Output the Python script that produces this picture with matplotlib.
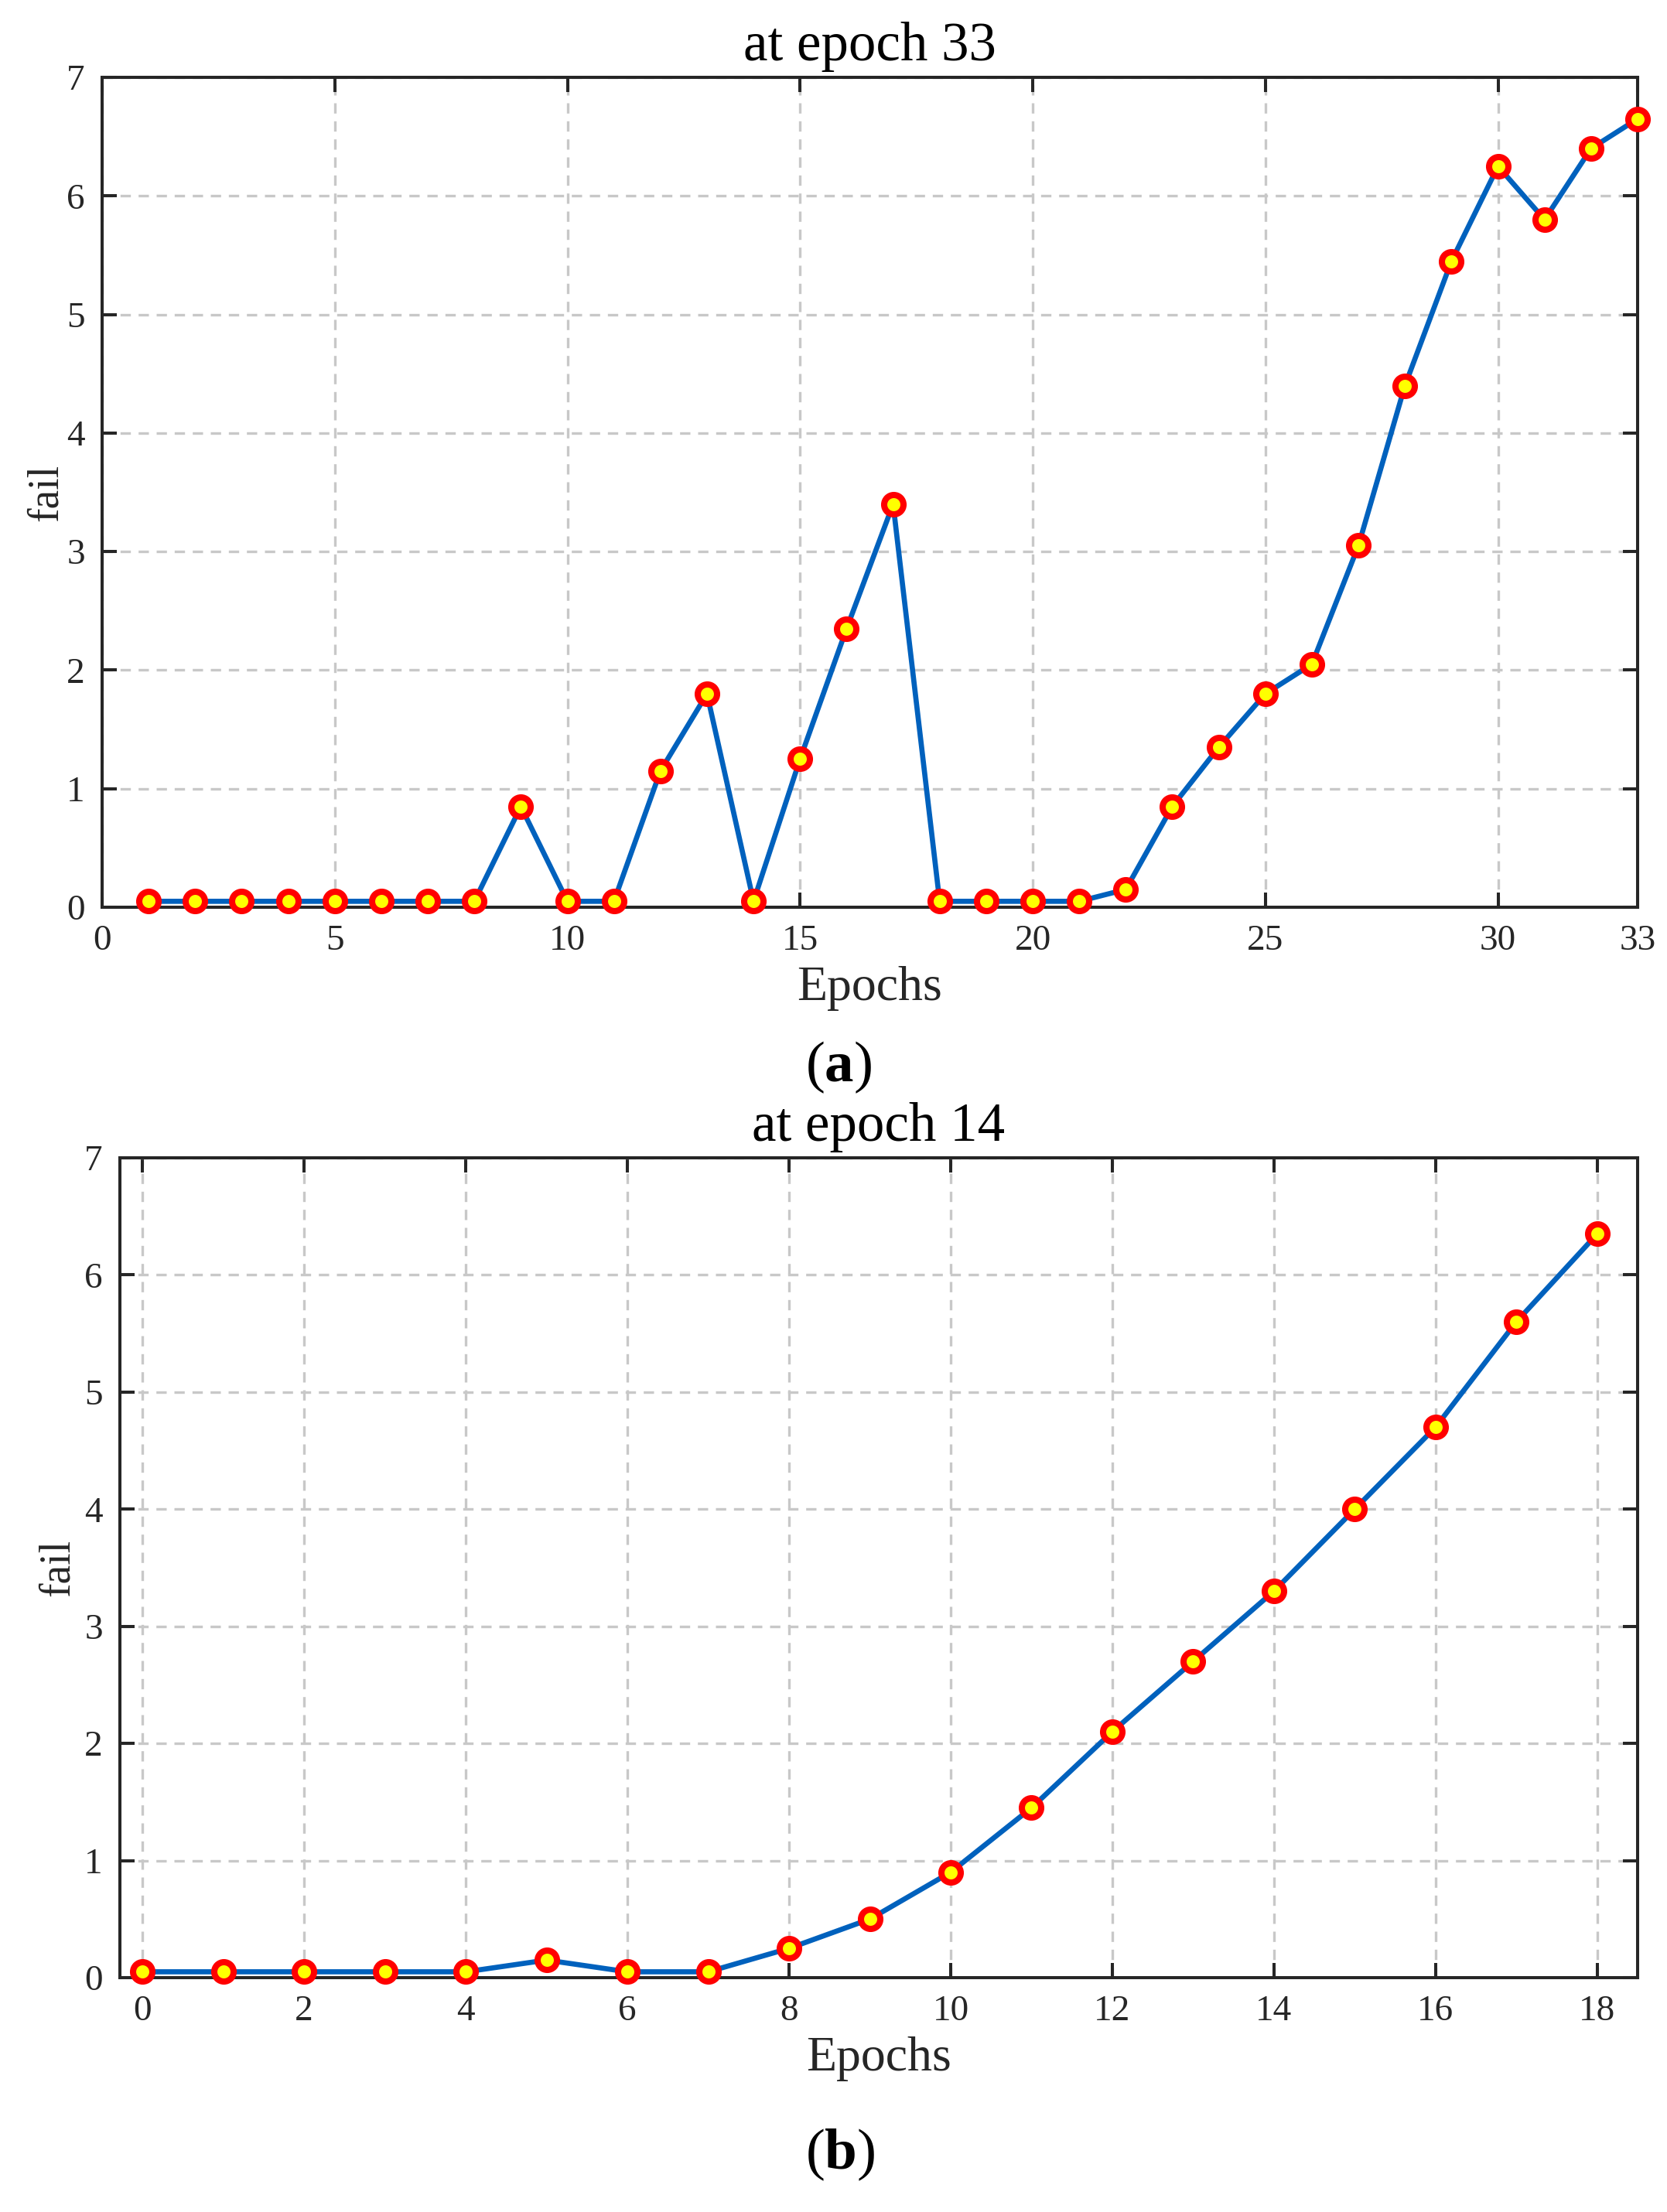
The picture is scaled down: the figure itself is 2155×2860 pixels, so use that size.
import numpy as np
import matplotlib
matplotlib.use("Agg")
import matplotlib.pyplot as plt

# panel (a): fail count per epoch, stopped at epoch 33
epochs_a = list(range(1, 34))
fail_a = [0.05, 0.05, 0.05, 0.05, 0.05, 0.05, 0.05, 0.05, 0.85, 0.05,
          0.05, 1.15, 1.8, 0.05, 1.25, 2.35, 3.4, 0.05, 0.05, 0.05,
          0.05, 0.15, 0.85, 1.35, 1.8, 2.05, 3.05, 4.4, 5.45, 6.25,
          5.8, 6.4, 6.65]
xticks_a = [0, 5, 10, 15, 20, 25, 30, 33]

# panel (b): stopped at epoch 14
epochs_b = list(range(0, 19))
fail_b = [0.05, 0.05, 0.05, 0.05, 0.05, 0.15, 0.05, 0.05, 0.25, 0.5,
          0.9, 1.45, 2.1, 2.7, 3.3, 4.0, 4.7, 5.6, 6.35]
xticks_b = list(range(0, 19, 2))

yticks = list(range(0, 8))

plt.rcParams["font.family"] = ["Liberation Serif", "DejaVu Serif"]
plt.rcParams["mathtext.fontset"] = "custom"
plt.rcParams["mathtext.rm"] = "Liberation Serif"
plt.rcParams["mathtext.bf"] = "Liberation Serif:bold"

W, H, DPI = 2155, 2860, 200
TXT = "#262626"
fig = plt.figure(figsize=(W / DPI, H / DPI), dpi=DPI)


def px_axes(left, top, right, bottom):
    return fig.add_axes([left / W, 1 - bottom / H, (right - left) / W, (bottom - top) / H])


def style(ax, x, y, xticks, xlim, title, ypad):
    ax.plot(x, y, color="#0061BD", lw=2.4, marker="o", ms=9, mfc="#FFFF00",
            mec="#FF0000", mew=2.9, zorder=3, clip_on=False)
    ax.set_xlim(*xlim)
    ax.set_ylim(0, 7)
    ax.set_xticks(xticks)
    ax.set_yticks(yticks)
    ax.grid(True, color="#c8c8c8", linestyle=(0, (4, 3)), lw=1.2)
    ax.tick_params(direction="in", length=7, width=1.45, top=True, right=True,
                   labelsize=17, colors=TXT, pad=8)
    for sp in ax.spines.values():
        sp.set_linewidth(1.45)
        sp.set_color(TXT)
    ax.set_xlabel("Epochs", fontsize=23, color=TXT, labelpad=4)
    ax.set_ylabel("fail", fontsize=20, color=TXT, labelpad=ypad)
    ax.set_title(title, fontsize=25.5, pad=8)


ax1 = px_axes(132, 100, 2117, 1173)
style(ax1, epochs_a, fail_a, xticks_a, (0, 33), "at epoch 33", 0)
fig.text(1084 / W, 1 - 1380 / H, r"($\mathbf{a}$)", ha="center", va="center",
         fontsize=27)

ax2 = px_axes(155, 1497, 2117, 2557)
style(ax2, epochs_b, fail_b, xticks_b, (-0.28, 18.5), "at epoch 14", 3)
fig.text(1086 / W, 1 - 2786 / H, r"($\mathbf{b}$)", ha="center", va="center",
         fontsize=27)

fig.savefig("out.png", dpi=DPI)
